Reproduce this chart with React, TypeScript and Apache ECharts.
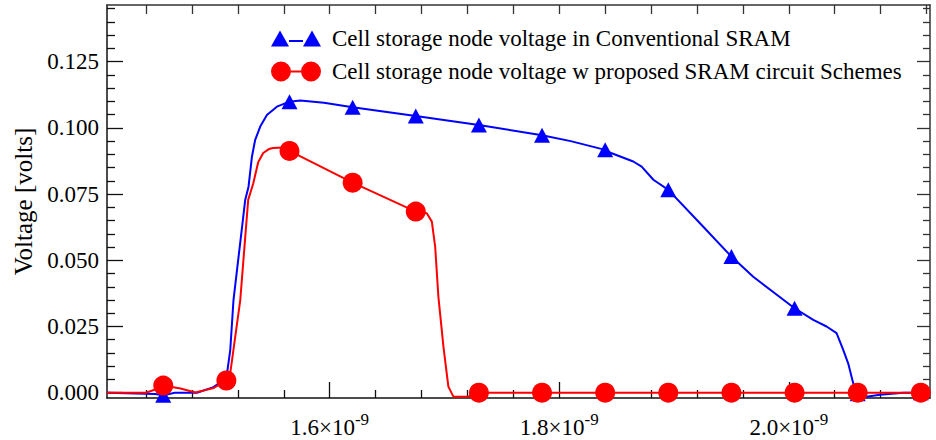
import React, { useEffect, useRef } from "react";
import * as echarts from "echarts";

const FONT = "Liberation Serif";

const conventionalName = "Cell storage node voltage in Conventional SRAM";
const proposedName = "Cell storage node voltage w proposed SRAM circuit Schemes";

// time in units of 1e-9 s, voltage in volts
const conventionalX = [
  1.406, 1.448, 1.455, 1.465, 1.4844, 1.4988, 1.51, 1.5134, 1.5162, 1.5244, 1.5264,
  1.5293, 1.5323, 1.5351, 1.5395, 1.5453, 1.554, 1.565, 1.5743, 1.595, 1.62, 1.675,
  1.73, 1.785, 1.81, 1.84, 1.8457, 1.8645, 1.8718, 1.882, 1.895, 1.9226, 1.95, 1.969,
  2.005, 2.0213, 2.0329, 2.0416, 2.0474, 2.0517, 2.0561, 2.06, 2.0677, 2.0793, 2.0923,
  2.1, 2.115, 2.123,
];
const conventionalY = [
  0.0, -0.0005, -0.001, 0.0, 0.0, 0.0021, 0.0055, 0.0162, 0.035, 0.0653, 0.0728,
  0.0778, 0.0892, 0.0955, 0.1005, 0.1049, 0.108, 0.1099, 0.1103, 0.1095, 0.1078, 0.1045,
  0.1011, 0.0972, 0.095, 0.0917, 0.0904, 0.0873, 0.0854, 0.0804, 0.0766, 0.064, 0.0514, 0.0438,
  0.0319, 0.0275, 0.025, 0.0225, 0.0162, 0.0111, 0.0036, -0.0004, -0.0015, -0.0008, -0.0003,
  0.0, 0.0, 0.0,
];

const proposedX = [
  1.406, 1.44, 1.448, 1.455, 1.47, 1.483, 1.49, 1.499, 1.51, 1.5134, 1.518, 1.5221,
  1.529, 1.5334, 1.5377, 1.5421, 1.547, 1.5508, 1.5595, 1.565, 1.62, 1.675, 1.6846,
  1.689, 1.6919, 1.6947, 1.6991, 1.7034, 1.7078, 1.718, 1.7205, 1.73, 1.785, 1.84,
  1.895, 1.95, 2.005, 2.06, 2.115, 2.123,
];
const proposedY = [
  0.0, 0.0, 0.0012, 0.0027, 0.0016, 0.0001, 0.0008, 0.0018, 0.0046, 0.0075, 0.022, 0.035,
  0.0728, 0.079, 0.087, 0.0905, 0.092, 0.0924, 0.0926, 0.0913, 0.0793, 0.0684, 0.0678,
  0.0646, 0.0552, 0.0363, 0.0174, 0.0023, -0.0015, -0.0015, -0.0015, 0.0, 0.0, 0.0,
  0.0, 0.0, 0.0, 0.0, 0.0, 0.0,
];

const markerX = [1.455, 1.51, 1.565, 1.62, 1.675, 1.73, 1.785, 1.84, 1.895, 1.95, 2.005, 2.06, 2.115];

const xRange = [1.406, 2.123];
const yRange = [-0.002, 0.1464];

const xMajorTicks = [1.6, 1.8, 2.0];
const xMinorTicks = [1.44, 1.48, 1.52, 1.56, 1.64, 1.68, 1.72, 1.76, 1.84, 1.88, 1.92, 1.96, 2.04, 2.08, 2.12];
const xAllTicks = [1.44, 1.48, 1.52, 1.56, 1.6, 1.64, 1.68, 1.72, 1.76, 1.8, 1.84, 1.88, 1.92, 1.96, 2.0, 2.04, 2.08, 2.12];
const yMajorTicks = [0, 0.025, 0.05, 0.075, 0.1, 0.125];
const yMinorTicks = [
  0.005, 0.01, 0.015, 0.02, 0.03, 0.035, 0.04, 0.045, 0.055, 0.06, 0.065, 0.07, 0.08, 0.085,
  0.09, 0.095, 0.105, 0.11, 0.115, 0.12, 0.13, 0.135, 0.14, 0.145,
];
const yTickLabels = ["0.000", "0.025", "0.050", "0.075", "0.100", "0.125"];

const yAxisTitle = "Voltage [volts]";

const triangleIcon =
  "path://M0,16 L9,0 L18,16 Z M18,9.5 L32,9.5 L32,11.5 L18,11.5 Z M32,16 L41,0 L50,16 Z";
const circleIcon =
  "path://M0,10 A10,10 0 1 1 20,10 A10,10 0 1 1 0,10 Z M20,9 L30,9 L30,11 L20,11 Z M30,10 A10,10 0 1 1 50,10 A10,10 0 1 1 30,10 Z";

function buildData(xs: number[], ys: number[], symbol: string) {
  return xs.map((x, i) => ({
    value: [x, ys[i]],
    symbol: markerX.includes(x) ? symbol : "none",
  }));
}

const AXIS_COLOR = "#111";

export default function App() {
  const ref = useRef<HTMLDivElement>(null);

  useEffect(() => {
    if (!ref.current) return;
    const chart = echarts.init(ref.current, undefined, { renderer: "svg" });

    const baseX = {
      type: "value",
      min: xRange[0],
      max: xRange[1],
      splitLine: { show: false },
    };
    const baseY = {
      type: "value",
      min: yRange[0],
      max: yRange[1],
      splitLine: { show: false },
    };

    const option: any = {
      animation: false,
      backgroundColor: "#fff",
      textStyle: { fontFamily: FONT },
      grid: { left: 107, right: 6, top: 5, bottom: 42, containLabel: false },
      legend: [
        {
          data: [{ name: conventionalName, icon: triangleIcon }],
          left: 271,
          top: 27,
          padding: 0,
          itemWidth: 50,
          itemHeight: 16,
          selectedMode: false,
          textStyle: { fontSize: 23, fontFamily: FONT, color: "#000", padding: [0, 0, 0, 6] },
        },
        {
          data: [{ name: proposedName, icon: circleIcon }],
          left: 271,
          top: 60,
          padding: 0,
          itemWidth: 50,
          itemHeight: 20,
          selectedMode: false,
          textStyle: { fontSize: 23, fontFamily: FONT, color: "#000", padding: [0, 0, 0, 6] },
        },
      ],
      xAxis: [
        {
          ...baseX,
          position: "bottom",
          axisLine: { show: true, onZero: false, lineStyle: { color: AXIS_COLOR, width: 1.5 } },
          axisTick: {
            show: true,
            inside: true,
            length: 16,
            customValues: xMajorTicks,
            lineStyle: { color: AXIS_COLOR, width: 1.3 },
          },
          axisLabel: {
            show: true,
            customValues: xMajorTicks,
            margin: 13,
            formatter: (v: number) => `{a|${v.toFixed(1)}×10}{s|-9}`,
            rich: {
              a: { fontSize: 23, fontFamily: FONT, color: "#000" },
              s: { fontSize: 17, fontFamily: FONT, color: "#000", padding: [0, 0, 15, 0] },
            },
          },
        },
        {
          ...baseX,
          position: "bottom",
          axisLine: { show: false, onZero: false },
          axisTick: {
            show: true,
            inside: true,
            length: 8,
            customValues: xMinorTicks,
            lineStyle: { color: AXIS_COLOR, width: 1.3 },
          },
          axisLabel: { show: false },
        },
        {
          ...baseX,
          position: "top",
          axisLine: { show: true, onZero: false, lineStyle: { color: "#333", width: 1.5 } },
          axisTick: {
            show: true,
            inside: true,
            length: 9,
            customValues: xAllTicks,
            lineStyle: { color: "#333", width: 1.3 },
          },
          axisLabel: { show: false },
        },
      ],
      yAxis: [
        {
          ...baseY,
          position: "left",
          name: yAxisTitle,
          nameLocation: "middle",
          nameGap: 60,
          nameTextStyle: { fontSize: 25, fontFamily: FONT, color: "#000" },
          axisLine: { show: true, onZero: false, lineStyle: { color: AXIS_COLOR, width: 1.5 } },
          axisTick: {
            show: true,
            inside: true,
            length: 16,
            customValues: yMajorTicks,
            lineStyle: { color: AXIS_COLOR, width: 1.3 },
          },
          axisLabel: {
            show: true,
            customValues: yMajorTicks,
            margin: 8,
            fontSize: 23,
            fontFamily: FONT,
            color: "#000",
            formatter: (v: number) => {
              const i = yMajorTicks.findIndex((t) => Math.abs(t - v) < 1e-9);
              return i >= 0 ? yTickLabels[i] : "";
            },
          },
        },
        {
          ...baseY,
          position: "left",
          axisLine: { show: false, onZero: false },
          axisTick: {
            show: true,
            inside: true,
            length: 8,
            customValues: yMinorTicks,
            lineStyle: { color: AXIS_COLOR, width: 1.3 },
          },
          axisLabel: { show: false },
        },
        {
          ...baseY,
          position: "right",
          axisLine: { show: true, onZero: false, lineStyle: { color: "#333", width: 1.5 } },
          axisTick: {
            show: true,
            inside: true,
            length: 13,
            customValues: yMajorTicks,
            lineStyle: { color: "#333", width: 1.3 },
          },
          axisLabel: { show: false },
        },
        {
          ...baseY,
          position: "right",
          axisLine: { show: false, onZero: false },
          axisTick: {
            show: true,
            inside: true,
            length: 7,
            customValues: yMinorTicks,
            lineStyle: { color: "#333", width: 1.3 },
          },
          axisLabel: { show: false },
        },
      ],
      series: [
        {
          name: conventionalName,
          type: "line",
          xAxisIndex: 0,
          yAxisIndex: 0,
          data: buildData(conventionalX, conventionalY, "triangle"),
          showSymbol: true,
          showAllSymbol: true,
          symbolSize: [16, 15],
          color: "#0000ff",
          itemStyle: { color: "#0000ff" },
          lineStyle: { color: "#0000ff", width: 2 },
          smooth: false,
          clip: true,
        },
        {
          name: proposedName,
          type: "line",
          xAxisIndex: 0,
          yAxisIndex: 0,
          data: buildData(proposedX, proposedY, "circle"),
          showSymbol: true,
          showAllSymbol: true,
          symbolSize: 20,
          color: "#ff0000",
          itemStyle: { color: "#ff0000" },
          lineStyle: { color: "#ff0000", width: 2 },
          smooth: false,
          clip: true,
        },
      ],
    };

    chart.setOption(option);
    return () => chart.dispose();
  }, []);

  return (
    <div
      ref={ref}
      style={{ position: "fixed", left: 0, top: 0, width: 936, height: 440, background: "#fff" }}
    />
  );
}
